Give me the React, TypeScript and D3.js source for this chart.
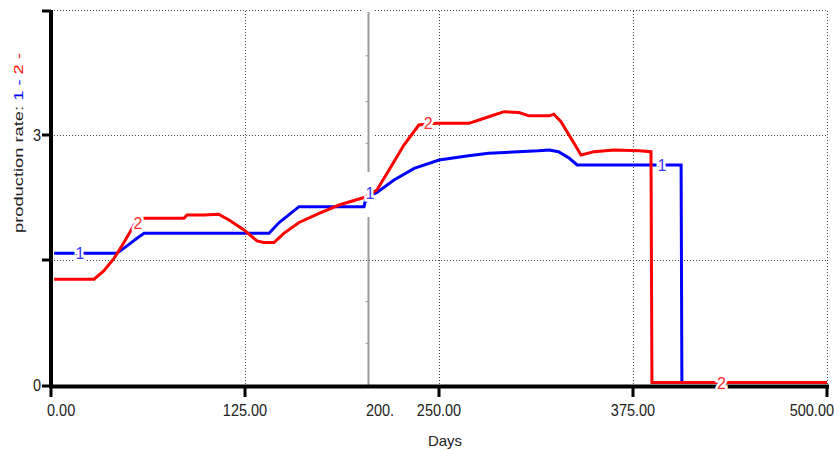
import React, { useEffect, useRef } from 'react';
import * as d3 from 'd3';

// series 1 (blue) and 2 (red)
const days1 = [2, 42.5, 49, 55.4, 60, 140.5, 147, 159.8, 201.7, 203, 210, 221, 234, 250, 269, 282, 314, 321, 327, 334, 339, 406, 406.5, 500];
const rate1 = [1.58, 1.58, 1.67, 1.76, 1.82, 1.82, 1.95, 2.14, 2.14, 2.25, 2.31, 2.46, 2.6, 2.7, 2.75, 2.78, 2.81, 2.82, 2.8, 2.72, 2.64, 2.64, 0.03, 0.03];

const days2 = [2, 27.7, 34, 40.6, 47, 53.5, 60, 85.7, 87.6, 98.6, 108, 114.7, 124.4, 132.7, 137, 143.7, 150, 159.8, 172.7, 185.6, 201.7, 210, 217.8, 227.4, 237, 248.7, 269.3, 275.8, 285.4, 292, 301.5, 308, 321, 324, 328.6, 337, 341.5, 350, 362.8, 379, 386.6, 387.2, 500];
const rate2 = [1.27, 1.27, 1.37, 1.52, 1.71, 1.92, 2.0, 2.0, 2.04, 2.04, 2.05, 1.98, 1.86, 1.73, 1.71, 1.71, 1.82, 1.95, 2.06, 2.16, 2.25, 2.34, 2.58, 2.88, 3.12, 3.14, 3.14, 3.18, 3.24, 3.28, 3.27, 3.23, 3.23, 3.25, 3.16, 2.9, 2.76, 2.8, 2.82, 2.81, 2.8, 0.03, 0.03];

// curve labels along each line
const labelDays1 = [18.7, 205.5, 393.7];
const labelRates1 = [1.58, 2.3, 2.64];
const labelDays2 = [56, 243, 432];
const labelRates2 = [1.95, 3.15, 0.03];

const xTicks = [0, 125, 250, 375, 500];
const xTickLabels = ['0.00', '125.00', '250.00', '375.00', '500.00'];
const yGrid = [1.5, 3, 4.5];
const yTicks = [0, 1.5, 3];
const yTickLabels = ['0', '', '3'];
const splitDay = 204.2;
const splitLabel = '200.';
const splitMarks = [0.5, 1.0, 2.2, 2.9, 3.4, 3.95];

const BLUE = '#0000ff';
const RED = '#ff0000';

export default function App() {
  const ref = useRef<SVGSVGElement>(null);

  useEffect(() => {
    const svg = d3.select(ref.current);
    svg.selectAll('*').remove();

    const x = d3.scaleLinear().domain([0, 500]).range([51, 827]);
    const y = d3.scaleLinear().domain([0, 4.5]).range([385, 10]);
    const font = 'Liberation Sans, Arial, sans-serif';

    // dotted grid
    const grid = svg.append('g').attr('stroke', '#444').attr('stroke-width', 1).attr('stroke-dasharray', '1,2');
    grid.selectAll('line.v').data(xTicks.slice(1)).enter().append('line')
      .attr('x1', (d) => Math.round(x(d)) + 0.5).attr('x2', (d) => Math.round(x(d)) + 0.5)
      .attr('y1', y(4.5) + 1).attr('y2', y(0));
    grid.selectAll('line.h').data(yGrid).enter().append('line')
      .attr('x1', x(0)).attr('x2', x(500))
      .attr('y1', (d) => Math.round(y(d)) + 0.5).attr('y2', (d) => Math.round(y(d)) + 0.5);

    // gray axis left over from the second plot
    const gx = Math.round(x(splitDay)) + 0.5;
    svg.append('rect').attr('x', gx - 6).attr('y', y(3) - 2).attr('width', 12).attr('height', 4).attr('fill', '#fff');
    svg.append('rect').attr('x', gx - 6).attr('y', y(4.5) - 1).attr('width', 12).attr('height', 4).attr('fill', '#fff');
    const gray = svg.append('g').attr('stroke', '#9a9a9a').attr('stroke-width', 2);
    gray.append('line').attr('x1', gx).attr('x2', gx).attr('y1', y(4.5) + 2).attr('y2', 172);
    gray.append('line').attr('x1', gx).attr('x2', gx).attr('y1', 217).attr('y2', y(0));
    gray.selectAll('line.m').data(splitMarks).enter().append('line')
      .attr('x1', gx - 3).attr('x2', gx)
      .attr('y1', (d) => y(d)).attr('y2', (d) => y(d))
      .attr('stroke-width', 1);

    // series lines
    const line = d3.line<[number, number]>().x((d) => x(d[0])).y((d) => y(d[1]));
    const pts1 = days1.map((d, i) => [d, rate1[i]] as [number, number]);
    const pts2 = days2.map((d, i) => [d, rate2[i]] as [number, number]);
    svg.append('path').attr('d', line(pts1)).attr('fill', 'none').attr('stroke', BLUE).attr('stroke-width', 3);
    svg.append('path').attr('d', line(pts2)).attr('fill', 'none').attr('stroke', RED).attr('stroke-width', 3);

    // axes
    const axes = svg.append('g').attr('stroke', '#000');
    axes.append('line').attr('x1', x(0)).attr('x2', x(0)).attr('y1', y(4.5)).attr('y2', y(0) + 3).attr('stroke-width', 4);
    axes.append('line').attr('x1', x(0) - 9).attr('x2', x(0)).attr('y1', y(4.5) + 1).attr('y2', y(4.5) + 1).attr('stroke-width', 3);
    axes.selectAll('line.yt').data(yTicks).enter().append('line')
      .attr('x1', x(0) - 9).attr('x2', x(0))
      .attr('y1', (d) => y(d) + (d === 0 ? 1 : 0)).attr('y2', (d) => y(d) + (d === 0 ? 1 : 0))
      .attr('stroke-width', 3);
    axes.append('line').attr('x1', x(0) - 2).attr('x2', x(500) + 2).attr('y1', y(0) + 1.5).attr('y2', y(0) + 1.5).attr('stroke-width', 4);
    axes.selectAll('line.xt').data(xTicks).enter().append('line')
      .attr('x1', (d) => x(d)).attr('x2', (d) => x(d))
      .attr('y1', y(0)).attr('y2', y(0) + 12)
      .attr('stroke-width', 3);

    // curve labels with white halo so the line breaks around them
    const addLabels = (ds: number[], rs: number[], text: string, color: string) => {
      svg.selectAll(null).data(ds).enter().append('text')
        .attr('x', (d) => x(d)).attr('y', (d, i) => y(rs[i]) + 6)
        .attr('text-anchor', 'middle')
        .style('font-family', font).style('font-size', '16px')
        .attr('fill', color)
        .attr('stroke', '#fff').attr('stroke-width', 5)
        .attr('paint-order', 'stroke')
        .text(text);
    };
    addLabels(labelDays1, labelRates1, '1', '#3a3aff');
    addLabels(labelDays2, labelRates2, '2', '#ff3030');

    // tick labels, a little tall and narrow like the original
    const tickText = (tx: number, ty: number, s: string, anchor: string) => {
      svg.append('g').attr('transform', 'translate(' + tx + ',' + ty + ') scale(1,1.15)')
        .append('text').attr('text-anchor', anchor)
        .style('font-family', font).style('font-size', '14.5px').attr('fill', '#222')
        .text(s);
    };
    xTicks.forEach((d, i) => {
      let anchor = 'middle';
      let tx = x(d);
      if (i === 0) { anchor = 'start'; tx = x(d) - 4; }
      if (i === xTicks.length - 1) { anchor = 'end'; tx = 834; }
      tickText(tx, 416, xTickLabels[i], anchor);
    });
    tickText(x(splitDay) - 2, 416, splitLabel, 'start');
    yTicks.forEach((d, i) => {
      if (yTickLabels[i]) tickText(41, y(d) + 6, yTickLabels[i], 'end');
    });

    // axis titles
    svg.append('text').attr('x', 445).attr('y', 446).attr('text-anchor', 'middle')
      .style('font-family', font).style('font-size', '15px').attr('fill', '#222')
      .text('Days');

    const yTitle = svg.append('text')
      .attr('transform', 'translate(23,143) rotate(-90)')
      .attr('text-anchor', 'middle')
      .attr('textLength', 180).attr('lengthAdjust', 'spacingAndGlyphs')
      .style('font-family', font).style('font-size', '13.5px').attr('fill', '#222');
    yTitle.append('tspan').text('production rate: ');
    yTitle.append('tspan').attr('fill', BLUE).text('1 - ');
    yTitle.append('tspan').attr('fill', RED).text('2 -');
  }, []);

  return (
    <div style={{ position: 'absolute', left: 0, top: 0 }}>
      <svg ref={ref} width={834} height={450} style={{ display: 'block', background: '#fff' }} />
    </div>
  );
}
